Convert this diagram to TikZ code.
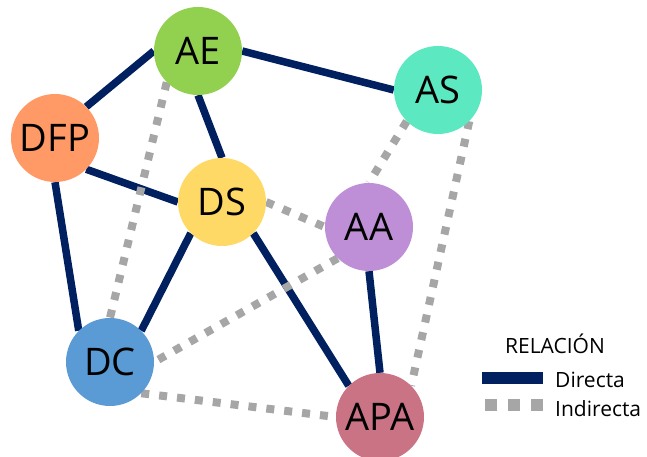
\documentclass[tikz,border=0pt]{standalone}
\usepackage{fontspec}
\setmainfont{Open Sans}
\usetikzlibrary{backgrounds}
\definecolor{navy}{HTML}{002060}
\definecolor{dotgray}{HTML}{A6A6A6}
\definecolor{cAE}{HTML}{92D050}
\definecolor{cAS}{HTML}{5CE8C0}
\definecolor{cDFP}{HTML}{FF9966}
\definecolor{cDS}{HTML}{FFD966}
\definecolor{cAA}{HTML}{BE8FD6}
\definecolor{cDC}{HTML}{5B9BD5}
\definecolor{cAPA}{HTML}{C97385}
\tikzset{
  actor/.style={circle, minimum size=88pt, inner sep=0pt, fill=#1,
    font=\fontsize{38}{38}\selectfont},
  direct/.style={draw=navy, line width=7.5pt},
  indirect/.style={draw=dotgray, line width=8pt, dash pattern=on 8pt off 10pt},
  legtext/.style={font=\fontsize{21}{22}\selectfont, inner sep=0pt}
}
\begin{document}
\begin{tikzpicture}[x=1pt,y=-1pt]
\useasboundingbox (0,0) rectangle (647,457);

% actors
\node[actor=cAE]  (AE)  at (198,51)  {AE};
\node[actor=cAS]  (AS)  at (438,90)  {AS};
\node[actor=cDFP] (DFP) at (55,138)  {DFP};
\node[actor=cDS]  (DS)  at (222,202) {DS};
\node[actor=cAA]  (AA)  at (369,227) {AA};
\node[actor=cDC]  (DC)  at (110,362) {DC};
\node[actor=cAPA] (APA) at (380,417) {APA};

\begin{scope}[on background layer]
  % direct relations
  \draw[direct] (AE.west) -- (DFP.45);
  \draw[direct] (AE.east) -- (AS.west);
  \draw[direct] (AE.south) -- (DS.north);
  \draw[direct] (DFP.-45) -- (DS.west);
  \draw[direct] (DFP.south) -- (DC.135);
  \draw[direct] (DS.-135) -- (DC.45);
  \draw[direct] (DS.-45) -- (APA.135);
  \draw[direct] (AA.south) -- (APA.north);
  % indirect relations
  \draw[indirect] (AE.-135) -- (DC.north);
  \draw[indirect] (DS.east) -- (AA.west);
  \draw[indirect] (AS.-135) -- (AA.north);
  \draw[indirect] (AS.-45) -- (APA.45);
  \draw[indirect] (AA.-135) -- (DC.east);
  \draw[indirect] (DC.-45) -- (APA.west);
\end{scope}

% legend
\node[legtext] (leg) at (555,344) {RELACIÓN};
\node[legtext, anchor=west] (ldir) at (555,380) {Directa};
\node[legtext, anchor=west] (lind) at (555,409) {Indirecta};
\coordinate (d1) at (482,378);
\coordinate (d2) at (543,378);
\coordinate (i1) at (485,405);
\coordinate (i2) at (543,405);
\draw[draw=navy, line width=12pt] (d1) -- (d2);
\draw[draw=dotgray, line width=12pt, dash pattern=on 12pt off 11pt] (i1) -- (i2);
\end{tikzpicture}
\end{document}
